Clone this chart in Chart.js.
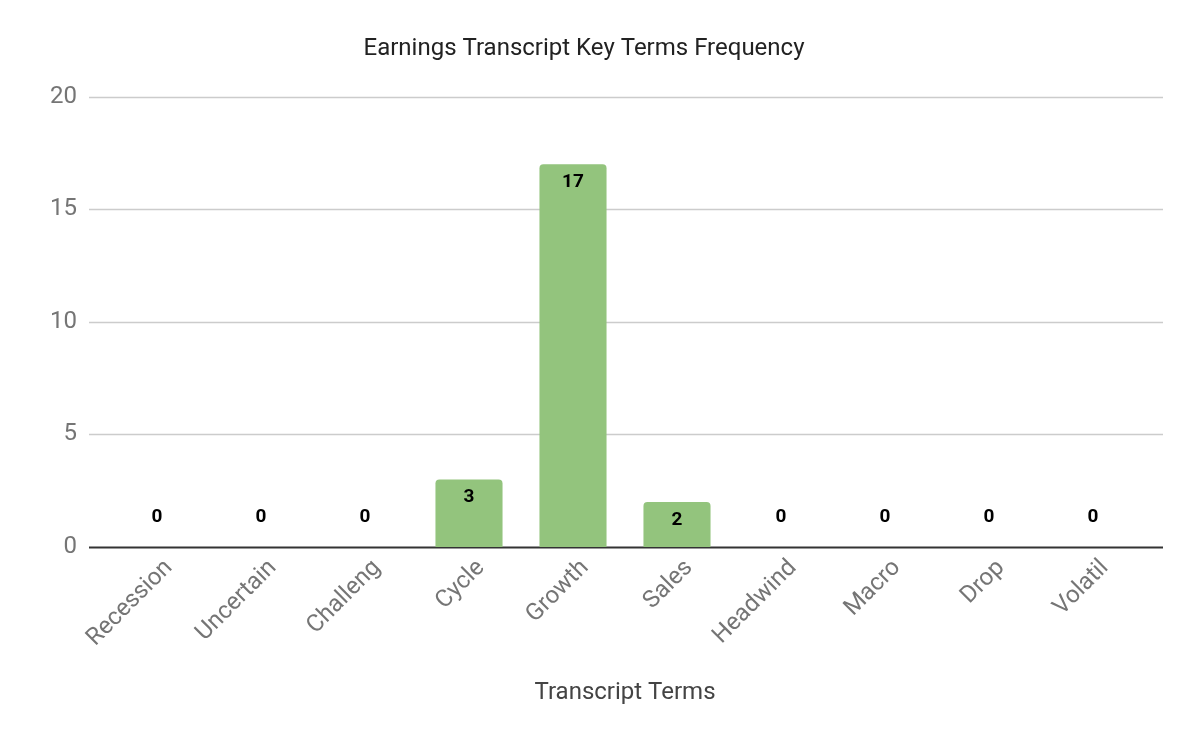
<!DOCTYPE html>
<html>
<head>
<meta charset="utf-8">
<script src="https://cdn.jsdelivr.net/npm/chart.js@4.4.1/dist/chart.umd.min.js"></script>
<style>
  html, body { margin: 0; padding: 0; background: #fff; }
  #wrap { width: 1200px; height: 741px; }
</style>
</head>
<body>
<div id="wrap"><canvas id="termsChart"></canvas></div>
<script>
// chart data
const terms = ['Recession', 'Uncertain', 'Challeng', 'Cycle', 'Growth', 'Sales', 'Headwind', 'Macro', 'Drop', 'Volatil'];
const counts = [0, 0, 0, 3, 17, 2, 0, 0, 0, 0];
const yTicks = [0, 5, 10, 15, 20];

// gridlines run a bit wider than the bars, so draw them ourselves
const wideGrid = {
    id: 'wideGrid',
    beforeDatasetsDraw(chart) {
        const { ctx, chartArea, scales } = chart;
        const left = chartArea.left - 16, right = chartArea.right + 18;
        ctx.save();
        yTicks.forEach(v => {
            const y = Math.round(scales.y.getPixelForValue(v)) + 0.5;
            ctx.beginPath();
            ctx.strokeStyle = v === 0 ? '#333333' : '#cccccc';
            ctx.lineWidth = v === 0 ? 2 : 1.3;
            ctx.moveTo(left, y);
            ctx.lineTo(right, y);
            ctx.stroke();
        });
        ctx.restore();
    }
};

// value labels on the bars
const barLabels = {
    id: 'barLabels',
    afterDatasetsDraw(chart) {
        const { ctx } = chart;
        const meta = chart.getDatasetMeta(0);
        ctx.save();
        ctx.font = 'bold 19px Roboto';
        ctx.fillStyle = '#000000';
        ctx.textAlign = 'center';
        ctx.textBaseline = 'middle';
        meta.data.forEach((bar, i) => {
            const v = counts[i];
            const y = v > 0 ? bar.y + 18 : bar.base - 30;
            ctx.fillText(String(v), bar.x, y);
        });
        ctx.restore();
    }
};

const ctx = document.getElementById('termsChart').getContext('2d');
const termsChart = new Chart(ctx, {
    type: 'bar',
    data: {
        labels: terms,
        datasets: [{
            label: 'Count',
            data: counts,
            backgroundColor: '#93c47d',
            borderRadius: { topLeft: 4, topRight: 4 },
            borderSkipped: 'bottom',
            barPercentage: 1,
            categoryPercentage: 0.645
        }]
    },
    options: {
        responsive: true,
        maintainAspectRatio: false,
        animation: false,
        layout: { padding: { top: 0, right: 32, bottom: 30, left: 0 } },
        plugins: {
            legend: { display: false },
            tooltip: { enabled: false },
            title: {
                display: true,
                text: 'Earnings Transcript Key Terms Frequency',
                color: '#222222',
                font: { family: 'Roboto', size: 24, weight: 'normal' },
                padding: { top: 35, bottom: 33 }
            }
        },
        scales: {
            y: {
                min: 0,
                max: 20,
                afterBuildTicks(scale) { scale.ticks = yTicks.map(v => ({ value: v })); },
                afterFit(scale) { scale.width = 105; },
                grid: { display: false, drawTicks: false },
                border: { display: false },
                ticks: {
                    color: '#757575',
                    padding: 28,
                    font: { family: 'Roboto', size: 24 }
                }
            },
            // empty right-hand spacer so the plot ends where the reference does
            yRight: {
                position: 'right',
                min: 0,
                max: 20,
                afterFit(scale) { scale.width = 23; },
                grid: { display: false, drawTicks: false },
                border: { display: false },
                ticks: { display: false }
            },
            x: {
                afterFit(scale) { scale.height = 164; },
                grid: { display: false, drawTicks: false },
                border: { display: false },
                ticks: {
                    color: '#757575',
                    minRotation: 45,
                    maxRotation: 45,
                    padding: 7,
                    labelOffset: 12,
                    font: { family: 'Roboto', size: 24 }
                },
                title: {
                    display: true,
                    text: 'Transcript Terms',
                    color: '#444444',
                    font: { family: 'Roboto', size: 24 },
                    padding: { top: 4, bottom: 4 }
                }
            }
        }
    },
    plugins: [wideGrid, barLabels]
});
</script>
</body>
</html>
